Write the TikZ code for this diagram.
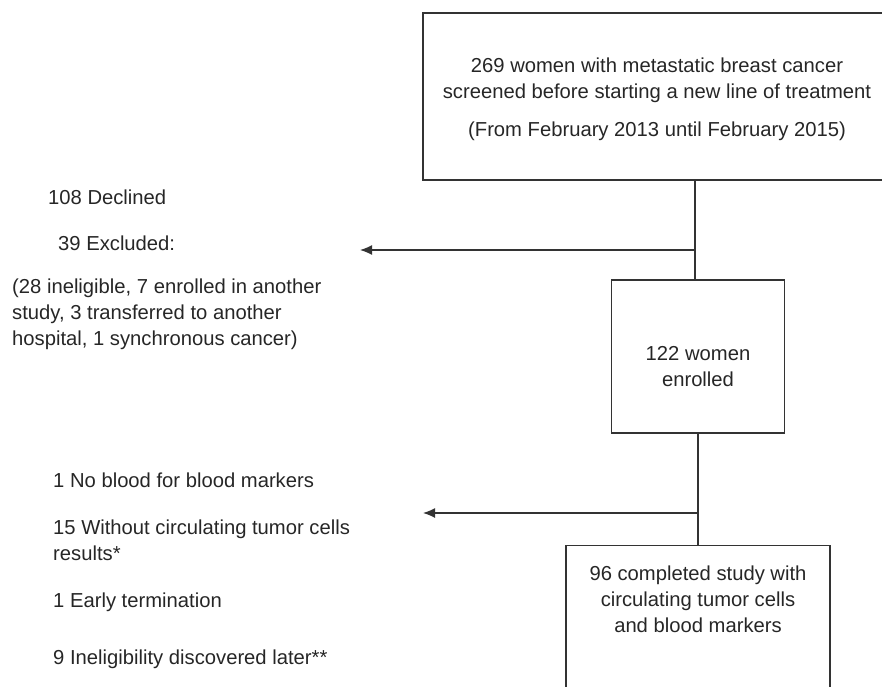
\documentclass[tikz,border=0pt]{standalone}
\usepackage{fontspec}
\setmainfont{Liberation Sans}
\usetikzlibrary{arrows.meta}
\begin{document}
\begin{tikzpicture}[x=1bp,y=-1bp,
every node/.style={%
font=\fontsize{20.3}{26}\selectfont,
text=black!85,
inner sep=0pt,
},
box/.style={draw=black!80,line width=1.3bp},
input/.style={align=left,anchor=base west},
arw/.style={-{Latex[length=12bp,width=10bp]},line width=1.3bp,draw=black!80}
]
\useasboundingbox(0,0)rectangle(882,687);
\clip(0,0)rectangle(882,687);
\node[box,minimum width=468bp,minimum height=167bp,text height=84bp,align=center]at(657,96.5)(scr){269 women with metastatic breast cancer\\screened before starting a new line of treatment\\[12bp](From February 2013 until February 2015)};
\node[box,minimum width=173bp,minimum height=153bp,text height=60bp,align=center]at(698,356.5)(enr){122 women\\enrolled};
\node[box,minimum width=264bp,text depth=120bp,inner ysep=20bp,anchor=north,align=center]at(698,545)(done){96 completed study with\\circulating tumor cells\\and blood markers};
\node[input]at(48,204)(decl){108 Declined};
\node[input]at(58,250)(excl){39 Excluded:};
\node[input,anchor=north west]at(12,279)(why){(28 ineligible, 7 enrolled in another\\study, 3 transferred to another\\hospital, 1 synchronous cancer)};
\node[input]at(53,487)(nob){1 No blood for blood markers};
\node[input,anchor=north west]at(53,520)(ctc){15 Without circulating tumor cells\\results*};
\node[input]at(53,607)(early){1 Early termination};
\node[input]at(53,664)(inel){9 Ineligibility discovered later**};
\coordinate(j1)at(695,250);
\coordinate(t1)at(360,250);
\coordinate(j2)at(698,513);
\coordinate(t2)at(423,513);
\draw[box](j1 |- scr.south)--(j1 |- enr.north);
\draw[arw](j1)--(t1);
\draw[box](enr.south)--(done.north);
\draw[arw](j2)--(t2);
\end{tikzpicture}
\end{document}
